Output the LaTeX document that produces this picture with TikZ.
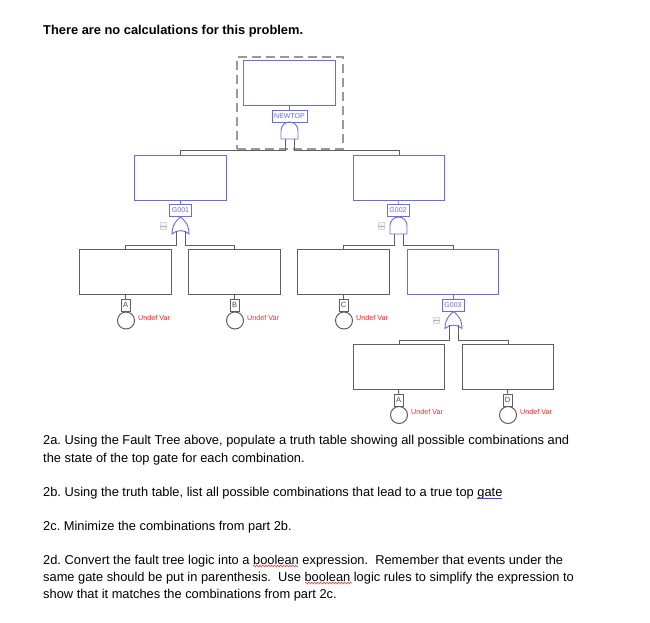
\documentclass[tikz,border=0pt]{standalone}
\usepackage{fontspec}
\setmainfont{Liberation Sans}
\frenchspacing
\usetikzlibrary{decorations.pathmorphing}
\definecolor{gblue}{RGB}{105,105,245}
\definecolor{ggray}{RGB}{95,95,95}
\tikzset{
 x=1pt,y=-1pt,
 bluebox/.style={draw=gblue,line width=1pt,minimum width=91.5pt,minimum height=45pt,inner sep=0pt,anchor=center},
 graybox/.style={draw=ggray,line width=1pt,minimum width=91.5pt,minimum height=45pt,inner sep=0pt,anchor=center},
 gatelabel/.style={draw=gblue,line width=0.9pt,minimum width=22pt,minimum height=12pt,inner sep=0pt,font=\fontsize{7}{7}\selectfont,text=gblue},
 eventlabel/.style={draw=ggray,line width=0.9pt,minimum width=9pt,minimum height=12pt,inner sep=0pt,font=\fontsize{7.5}{7}\selectfont,text=black!70},
 basic/.style={circle,draw=ggray,line width=1pt,minimum size=17pt,inner sep=0pt},
 undef/.style={anchor=west,inner sep=0pt,text=red!85,font=\fontsize{7.2}{7}\selectfont},
 wire/.style={draw=ggray,line width=1pt},
 bwire/.style={draw=gblue,line width=0.9pt},
 txt/.style={anchor=base west,inner sep=0pt,font=\fontsize{12.85}{14}\selectfont},
 toggle/.style={draw=black!15,fill=black!5,line width=0.7pt,minimum size=6.5pt,inner sep=0pt},
 squig/.style={draw=red!80,line width=0.5pt,decorate,decoration={zigzag,segment length=3pt,amplitude=0.9pt}},
}
\newcommand{\andgate}[2]{% center x, top y
 \draw[bwire] (#1-8.5,#2+17) -- (#1+8.5,#2+17) -- (#1+8.5,#2+8.5) arc[start angle=0,end angle=180,x radius=8.5pt,y radius=8.5pt] -- cycle;}
\newcommand{\orgate}[2]{%
 \draw[bwire] (#1-8.5,#2+17) .. controls (#1-8.5,#2+8) and (#1-4,#2+3) .. (#1,#2) .. controls (#1+4,#2+3) and (#1+8.5,#2+8) .. (#1+8.5,#2+17) .. controls (#1+4,#2+12.5) and (#1-4,#2+12.5) .. cycle;}
\begin{document}
\begin{tikzpicture}
\useasboundingbox (0,0) rectangle (650,622);
\fill[white] (0,0) rectangle (650,622);
% text
\node[txt,font=\fontsize{12.85}{14}\selectfont\bfseries] (title) at (43,34) {There are no calculations for this problem.};
\node[txt] (l1) at (43,444) {2a. Using the Fault Tree above, populate a truth table showing all possible combinations and};
\node[txt] (l2) at (43,462) {the state of the top gate for each combination.};
\node[txt] (l3) at (43,496) {2b. Using the truth table, list all possible combinations that lead to a true top gate};
\node[txt] (l4) at (43,530) {2c. Minimize the combinations from part 2b.};
\node[txt] (l5) at (43,564) {2d. Convert the fault tree logic into a boolean expression.\ \ Remember that events under the};
\node[txt] (l6) at (43,581) {same gate should be put in parenthesis.\ \ Use boolean logic rules to simplify the expression to};
\node[txt] (l7) at (43,598) {show that it matches the combinations from part 2c.};
\coordinate (u1) at (477,498.5); \coordinate (u2) at (502,498.5);
\draw[blue!75!white,line width=0.8pt] (u1) -- (u2);
\coordinate (s1) at (253,566); \coordinate (s2) at (298,566);
\coordinate (s3) at (305,583); \coordinate (s4) at (352,583);
\draw[squig] (s1) -- (s2);
\draw[squig] (s3) -- (s4);
% dashed frame
\node[draw=black!40,line width=1.1pt,dash pattern=on 9pt off 5pt,minimum width=106pt,minimum height=92pt,inner sep=0pt] (frame) at (290,103) {};
% boxes
\node[bluebox] (top) at (289.5,82.5) {};
\node[bluebox] (b1) at (180.5,177.5) {};
\node[bluebox] (b2) at (399,177.5) {};
\node[graybox] (e1) at (125.5,271.5) {};
\node[graybox] (e2) at (234.5,271.5) {};
\node[graybox] (e3) at (343.5,271.5) {};
\node[bluebox] (b3) at (453,271.5) {};
\node[graybox] (e4) at (399,366.5) {};
\node[graybox] (e5) at (508,366.5) {};
% gate labels
\node[gatelabel,minimum width=35pt] (ln) at (289.5,116) {NEWTOP};
\node[gatelabel] (l001) at (180.5,210.5) {G001};
\node[gatelabel] (l002) at (398,210.5) {G002};
\node[gatelabel] (l003) at (453,305) {G003};
\draw[bwire] (top) -- (ln);
\draw[bwire] (b1) -- (l001);
\draw[bwire] (b2) -- (l002);
\draw[bwire] (b3) -- (l003);
% gates
\andgate{289.5}{122}
\orgate{180.5}{217}
\andgate{398.5}{217}
\orgate{453.5}{311.5}
% wires
\coordinate (a1) at (285.5,139); \coordinate (a2) at (294,139);
\draw[wire] (a1) -- (285.5,150) -| (b1.north);
\draw[wire] (a2) -- (294,150) -| (b2.north);
\coordinate (c1) at (176,231); \coordinate (c2) at (185,231);
\draw[wire] (c1) -- (176,245) -| (e1.north);
\draw[wire] (c2) -- (185,245) -| (e2.north);
\coordinate (d1) at (394,234); \coordinate (d2) at (403,234);
\draw[wire] (d1) -- (394,245) -| (e3.north);
\draw[wire] (d2) -- (403,245) -| (b3.north);
\coordinate (f1) at (449.5,325); \coordinate (f2) at (458,325);
\draw[wire] (f1) -- (449.5,340) -| (e4.north);
\draw[wire] (f2) -- (458,340) -| (e5.north);
% events
\node[eventlabel] (ea) at (125.5,305) {A};
\node[eventlabel] (eb) at (234.5,305) {B};
\node[eventlabel] (ec) at (343.5,305) {C};
\node[eventlabel] (ed) at (398.5,400) {A};
\node[eventlabel] (ee) at (507.5,400) {D};
\node[basic] (ca) at (126,320.5) {};
\node[basic] (cb) at (235,320.5) {};
\node[basic] (cc) at (344,320.5) {};
\node[basic] (cd) at (399,415) {};
\node[basic] (ce) at (508,415) {};
\draw[wire] (e1) -- (ea); \draw[wire] (e2) -- (eb); \draw[wire] (e3) -- (ec);
\draw[wire] (e4) -- (ed); \draw[wire] (e5) -- (ee);
\node[undef] (ua) at (138,317.5) {Undef Var};
\node[undef] (ub) at (247,317.5) {Undef Var};
\node[undef] (uc) at (356,317.5) {Undef Var};
\node[undef] (ud) at (411,412) {Undef Var};
\node[undef] (ue) at (520,412) {Undef Var};
% toggles
\node[toggle] (t1) at (163.5,226) {}; \draw[black!30,line width=0.5pt] (t1.west) -- (t1.east);
\node[toggle] (t2) at (381.5,226) {}; \draw[black!30,line width=0.5pt] (t2.west) -- (t2.east);
\node[toggle] (t3) at (436.5,320.5) {}; \draw[black!30,line width=0.5pt] (t3.west) -- (t3.east);
\end{tikzpicture}
\end{document}
